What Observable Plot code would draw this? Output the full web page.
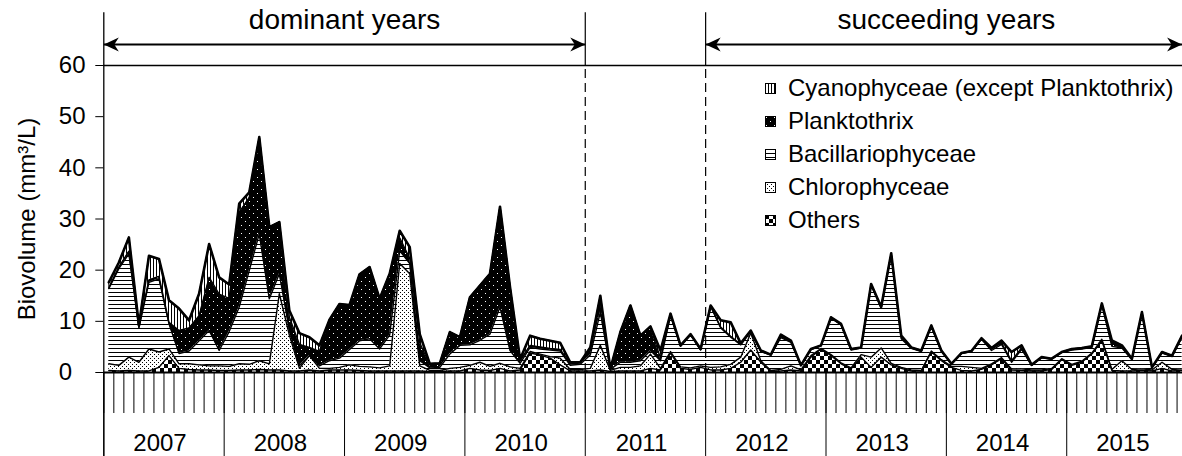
<!DOCTYPE html>
<html><head><meta charset="utf-8">
<script src="https://cdn.jsdelivr.net/npm/d3@7"></script>
<script src="https://cdn.jsdelivr.net/npm/@observablehq/plot@0.6"></script>
<style>
html,body{margin:0;padding:0;background:#fff;overflow:hidden;}
#wrap{position:relative;width:1182px;height:456px;}
#legend{position:absolute;left:765px;top:0;font-family:"Liberation Sans",Arial,sans-serif;font-size:24px;color:#000;}
.item{position:absolute;left:0;height:28px;white-space:nowrap;display:flex;align-items:center;}
.item svg{margin-right:12px;}
</style></head><body>
<svg width="0" height="0" style="position:absolute">
<defs>
<pattern id="p-cya" patternUnits="userSpaceOnUse" width="3" height="3">
  <rect width="3" height="3" fill="#fff"/><rect x="0" width="1" height="3" fill="#000"/>
</pattern>
<pattern id="p-pla" patternUnits="userSpaceOnUse" width="8" height="8">
  <rect width="8" height="8" fill="#000"/><rect x="1" y="1" width="1" height="1" fill="#fff"/><rect x="5" y="5" width="1" height="1" fill="#fff"/>
</pattern>
<pattern id="p-bac" patternUnits="userSpaceOnUse" width="4" height="4">
  <rect width="4" height="4" fill="#fff"/><rect y="0" width="4" height="1" fill="#000"/>
</pattern>
<pattern id="p-chl" patternUnits="userSpaceOnUse" width="4" height="4">
  <rect width="4" height="4" fill="#fff"/><rect x="0" y="0" width="1" height="1" fill="#000"/><rect x="2" y="2" width="1" height="1" fill="#000"/>
</pattern>
<pattern id="p-oth" patternUnits="userSpaceOnUse" width="8" height="8">
  <rect width="8" height="8" fill="#fff"/><rect width="4" height="4" fill="#000"/><rect x="4" y="4" width="4" height="4" fill="#000"/>
</pattern>
</defs></svg>
<div id="wrap"><div id="legend"></div></div>
<script>
// ---- data (monthly, Jan 2007 - Dec 2015), biovolume mm3/L ----
const years = [2007, 2008, 2009, 2010, 2011, 2012, 2013, 2014, 2015];
const seriesNames = ["Others", "Chlorophyceae", "Bacillariophyceae", "Planktothrix", "Cyanophyceae (except Planktothrix)"];
const yTicks = [0, 10, 20, 30, 40, 50, 60];
const yLabel = "Biovolume (mm³/L)";
const periods = [
  {label: "dominant years", start: -0.5, end: 47.5},
  {label: "succeeding years", start: 59.5, end: 107.5}
];
const separators = [47.5, 59.5];

const others = [
  0.4,0.3,0.4,0.3,0.3,1.0,3.3,0.8,0.6,0.5,0.5,0.4,
  0.4,0.5,0.5,0.6,0.5,0.5,0.3,0.3,0.5,0.3,0.5,0.5,
  0.5,0.4,0.3,0.3,0.3,0.3,0.3,0.3,0.2,0.2,0.3,0.3,
  0.8,0.5,0.4,0.8,0.3,0.5,3.8,3.4,2.8,1.5,0.3,0.3,
  0.3,0.5,0.2,0.3,0.3,0.3,0.8,0.5,3.8,0.8,0.6,1.0,
  0.5,0.5,0.8,2.0,4.4,2.0,0.2,0.3,0.5,0.3,3.0,4.6,
  3.3,1.7,0.7,3.0,1.0,3.0,1.5,0.8,0.3,0.3,4.0,2.3,
  1.0,0.4,0.3,0.6,1.5,2.7,0.5,0.4,0.3,0.3,0.6,2.5,
  1.4,2.0,3.6,6.2,0.4,0.3,0.3,0.4,0.3,0.8,0.3,0.4
];
const chloro = [
  1.3,1.1,2.6,1.7,4.3,3.0,1.3,0.9,1.1,1.0,0.8,0.9,
  0.8,1.2,1.1,1.7,1.2,14.9,7.0,0.5,2.8,0.5,0.3,0.5,
  1.0,0.8,0.8,0.6,1.0,21.0,19.0,1.0,0.2,0.2,0.5,0.7,
  0.6,1.5,0.8,1.0,0.8,0.3,0.3,0.2,0.3,1.3,0.3,0.3,
  0.5,4.8,0.2,0.7,0.7,1.0,2.8,0.3,0.3,0.3,0.3,0.3,
  0.5,0.6,0.8,1.0,3.3,0.3,0.2,0.3,0.8,0.2,0.3,0.1,
  0.2,0.2,0.2,0.5,2.0,1.8,0.3,0.2,0.2,0.1,0.2,0.2,
  0.2,0.8,0.7,0.2,0.2,0.2,0.2,0.3,0.2,0.2,0.2,0.2,
  0.2,0.2,0.2,0.3,0.2,2.0,0.3,0.3,0.2,1.2,0.3,0.3
];
const bacillario = [
  14.7,18.9,20.2,6.7,13.0,14.3,4.9,2.0,2.5,4.7,6.9,3.0,
  6.8,11.1,18.3,24.8,12.7,3.9,1.0,0.5,0.0,0.5,1.5,1.8,
  3.0,5.0,5.5,3.7,6.0,2.5,2.0,1.0,0.5,0.6,2.8,4.3,
  4.0,4.3,6.3,11.0,3.2,1.0,0.8,1.0,1.3,1.4,0.8,1.0,
  2.6,6.5,0.2,1.0,1.0,1.0,0.7,1.5,7.0,4.0,6.4,3.1,
  11.9,7.6,5.3,2.4,0.3,1.8,3.0,6.2,4.6,0.9,1.2,0.5,
  7.1,7.4,3.5,1.3,14.1,7.8,21.3,5.6,4.2,3.7,4.8,1.6,
  0.5,2.5,3.1,5.7,2.6,2.6,1.3,3.8,0.9,2.4,1.8,1.2,
  2.8,2.4,1.1,6.8,4.5,2.5,1.9,10.9,0.5,1.8,2.5,6.3
];
const planktothrix = [
  0.2,0.3,0.5,0.2,0.5,0.5,0.3,4.5,4.5,4.9,10.4,11.0,
  6.5,18.5,14.3,18.9,14.0,10.1,2.5,4.2,1.6,2.8,8.0,10.6,
  8.5,13.0,14.0,9.8,12.0,2.5,1.0,3.5,0.5,0.8,4.3,1.6,
  9.3,10.7,11.8,19.6,12.4,0.5,0.4,0.4,0.3,0.3,0.4,0.4,
  0.9,2.2,0.1,5.9,11.1,4.9,4.5,0.5,0.2,0.1,0.1,0.1,
  0.1,0.2,0.2,0.1,0.1,0.1,0.05,0.3,0.2,0.0,0.05,0.05,
  0.1,0.1,0.1,0.05,0.1,0.1,0.1,0.4,0.1,0.1,0.1,0.1,
  0.0,0.05,0.05,0.1,0.3,0.3,0.3,0.3,0.05,0.05,0.05,0.05,
  0.1,0.1,0.1,0.1,0.9,0.3,0.1,0.1,0.0,0.1,0.1,0.1
];
const cyano = [
  1.0,0.9,2.7,0.3,4.7,3.4,4.3,4.3,1.5,4.3,6.5,3.3,
  2.7,1.7,1.0,0.0,0.0,0.0,1.3,2.2,2.0,1.2,0.0,0.0,
  0.2,0.0,0.0,0.0,0.0,1.4,2.2,1.7,0.3,0.0,0.0,0.0,
  0.0,0.0,0.0,0.0,0.0,0.3,1.9,1.6,1.5,1.3,0.2,0.0,
  0.6,1.0,0.0,0.0,0.0,0.0,0.2,1.5,0.2,0.1,0.1,0.1,
  0.1,1.3,2.7,0.2,0.1,0.1,0.05,0.3,0.15,0.0,0.05,0.05,
  0.1,0.1,0.1,0.05,0.1,0.1,0.1,0.2,0.1,0.1,0.1,0.1,
  0.0,0.05,0.05,0.1,0.2,0.45,1.7,0.5,0.05,0.05,0.05,0.05,
  0.1,0.1,0.1,0.1,0.25,0.2,0.1,0.1,0.0,0.1,0.1,0.1
];

// ---- build tables ----
const patterns = ["url(#p-oth)", "url(#p-chl)", "url(#p-bac)", "url(#p-pla)", "url(#p-cya)"];
const valueArrays = [others, chloro, bacillario, planktothrix, cyano];
const data = [];
seriesNames.forEach((s, k) => valueArrays[k].forEach((v, i) => data.push({i, series: s, value: v})));
const totals = d3.range(others.length).map(i => ({i, total: d3.sum(valueArrays, a => a[i])}));
const nMonths = years.length * 12;
const monthEdges = d3.range(nMonths + 1).map(k => k - 0.5);
const yearEdges = d3.range(years.length + 1).map(k => k * 12 - 0.5);
const yearCenters = years.map((y, k) => k * 12 + 5.5);

const arrowMarker = () => {
  const m = d3.create("svg:marker")
    .attr("viewBox", "-16 -8 17 16")
    .attr("markerWidth", 17).attr("markerHeight", 16)
    .attr("markerUnits", "userSpaceOnUse")
    .attr("refX", 0).attr("refY", 0)
    .attr("orient", "auto-start-reverse");
  m.append("path").attr("d", "M0,0L-15,-7L-10.5,0L-15,7Z").attr("fill", "#000").attr("stroke", "none");
  return m.node();
};

const font = "'Liberation Sans', Arial, sans-serif";
const plot = Plot.plot({
  width: 1182, height: 456,
  marginTop: 65, marginBottom: 84, marginLeft: 103.3, marginRight: 0,
  x: {type: "linear", domain: [-0.5, nMonths - 0.5], range: [103.3, 1186.6]},
  y: {domain: [0, 60]},
  color: {type: "ordinal", domain: seriesNames, range: patterns},
  style: {fontFamily: font, fontSize: "24px", color: "#000", background: "#fff"},
  marks: [
    Plot.areaY(data, Plot.stackY({x: "i", y: "value", z: "series", fill: "series", order: seriesNames})),
    Plot.lineY(data, Plot.stackY2({x: "i", y: "value", z: "series", order: seriesNames, stroke: "#000", strokeWidth: 1.4})),
    Plot.lineY(totals, {x: "i", y: "total", stroke: "#000", strokeWidth: 2.6}),
    Plot.ruleY([60], {stroke: "#000", strokeWidth: 1.3}),
    Plot.ruleY([0], {stroke: "#000", strokeWidth: 2}),
    Plot.ruleX([-0.5], {y1: -16.5, y2: 70.3, stroke: "#000", strokeWidth: 1.3}),
    Plot.ruleX(separators, {y1: 60, y2: 70.3, stroke: "#000", strokeWidth: 1.2}),
    Plot.ruleX(separators, {y1: 0, y2: 60, stroke: "#000", strokeWidth: 1.2, strokeDasharray: "9,5"}),
    Plot.link(periods, {x1: "start", x2: d => Math.min(d.end, nMonths - 1), y1: 64.1, y2: 64.1,
      stroke: "#000", strokeWidth: 2, markerStart: arrowMarker, markerEnd: arrowMarker}),
    Plot.text(periods, {x: d => (d.start + d.end) / 2, y: 68.85, text: "label", fontSize: 28, fill: "#000"}),
    Plot.axisY({ticks: yTicks, tickSize: 8, tickPadding: 37, textAnchor: "start", fontSize: 24, label: null}),
    Plot.text([yLabel], {frameAnchor: "left", rotate: -90, textAnchor: "middle", dx: -76, fontSize: 24, fill: "#000"}),
    Plot.axisX({ticks: monthEdges, tickSize: 41, tickFormat: () => "", label: null}),
    Plot.axisX({ticks: yearEdges, tickSize: 84, tickFormat: () => "", label: null}),
    Plot.axisX({ticks: yearCenters, tickSize: 0, tickPadding: 61, dx: -4, tickFormat: (d, k) => String(years[k]), fontSize: 24, label: null})
  ]
});
document.getElementById("wrap").prepend(plot);

// ---- legend ----
const legend = d3.select("#legend");
const legendTop = 88, legendStep = 33;
[...seriesNames].reverse().forEach((s, k) => {
  const pat = patterns[seriesNames.indexOf(s)];
  const item = legend.append("div").attr("class", "item").style("top", (legendTop + k * legendStep - 14) + "px");
  const sw = item.append("svg").attr("width", 11).attr("height", 11);
  sw.append("rect").attr("x", 0.5).attr("y", 0.5).attr("width", 10).attr("height", 10)
    .attr("fill", pat).attr("stroke", "#000").attr("stroke-width", 1);
  item.append("span").text(s);
});
</script>
</body></html>
